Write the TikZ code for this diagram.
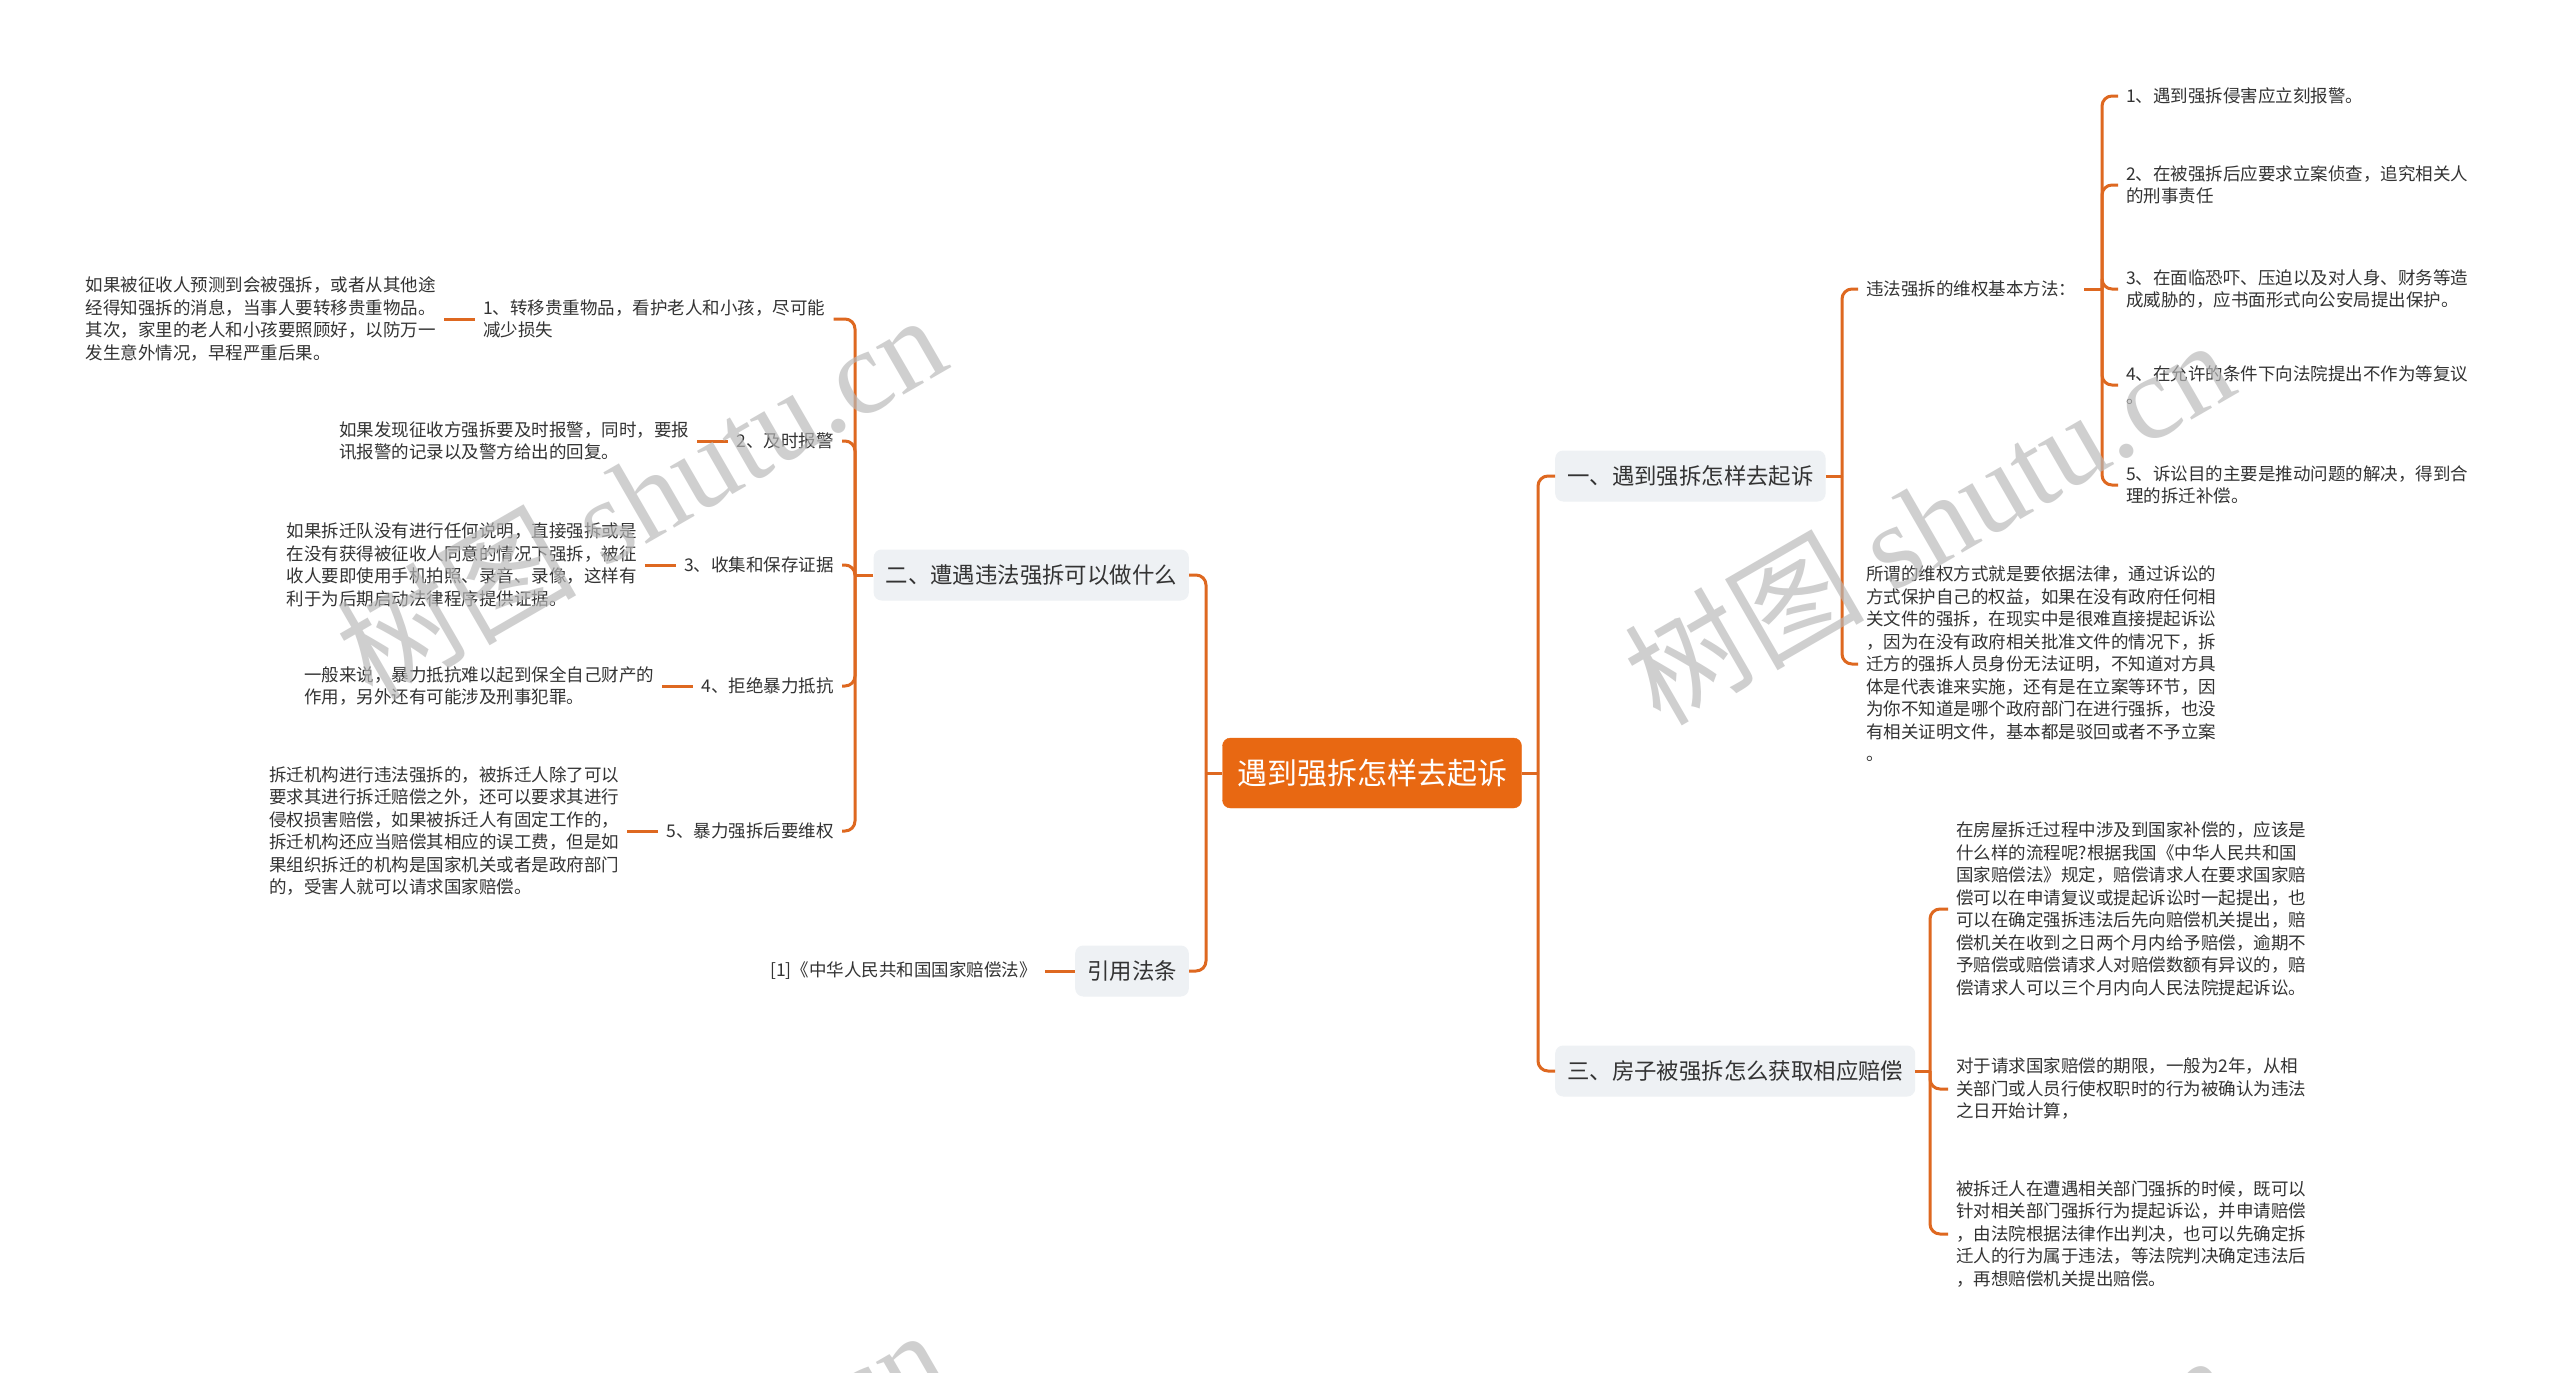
\documentclass[tikz,border=0pt]{standalone}
\usepackage{fontspec}
\setmainfont{Noto Sans CJK SC}
\newfontfamily\wmserif{Liberation Serif}
\usetikzlibrary{calc}
\definecolor{lineor}{RGB}{222,104,32}
\definecolor{rootor}{RGB}{232,104,18}
\definecolor{boxgray}{RGB}{238,241,244}
\definecolor{txt}{RGB}{51,51,51}
\definecolor{wm}{RGB}{185,185,185}
\tikzset{
  conn/.style={draw=lineor, line width=3pt, rounded corners=10pt},
  rootbox/.style={fill=rootor, draw=rootor, rounded corners=8pt, text=white, font=\fontsize{30}{36}\selectfont, minimum width=299pt, minimum height=70pt, inner sep=0pt},
  topbox/.style={fill=boxgray, rounded corners=8pt, text=txt, font=\fontsize{22.4}{28}\selectfont, inner xsep=12pt, minimum height=51pt},
  leaf/.style={text=txt, font=\fontsize{17.5}{22.5}\selectfont, align=left, inner xsep=8pt, inner ysep=2pt},
  wmark/.style={text=wm, opacity=0.68, rotate=30, font=\fontsize{120}{120}\selectfont},
}
\begin{document}
\begin{tikzpicture}[x=1pt,y=-1pt]
\fill[white] (0,0) rectangle (2560,1373);
\useasboundingbox (0,0) rectangle (2560,1373);

% root and first level
\node[rootbox] (root) at (1372,773) {遇到强拆怎样去起诉};
\node[topbox, anchor=east] (n2) at (1189,575) {二、遭遇违法强拆可以做什么};
\node[topbox, anchor=east] (ny) at (1189,971) {引用法条};
\node[topbox, anchor=west] (n1) at (1555,476) {一、遇到强拆怎样去起诉};
\node[topbox, anchor=west] (n3) at (1555,1071) {三、房子被强拆怎么获取相应赔偿};

\coordinate (tL) at (1206,773);
\coordinate (tR) at (1538,773);
\draw[conn] (root.west) -- (tL);
\draw[conn] (tL) |- (n2.east);
\draw[conn] (tL) |- (ny.east);
\draw[conn] (root.east) -- (tR);
\draw[conn] (tR) |- (n1.west);
\draw[conn] (tR) |- (n3.west);

% left branch: 二
\coordinate (t2) at (855,575);
\draw[conn] (n2.west) -- (t2);
\node[leaf, anchor=west] (a1) at (475,319) {1、转移贵重物品，看护老人和小孩，尽可能\\减少损失};
\node[leaf, anchor=east] (a2) at (842,441) {2、及时报警};
\node[leaf, anchor=east] (a3) at (842,565) {3、收集和保存证据};
\node[leaf, anchor=east] (a4) at (842,686) {4、拒绝暴力抵抗};
\node[leaf, anchor=east] (a5) at (842,831) {5、暴力强拆后要维权};
\draw[conn] (t2) |- (a1.east);
\draw[conn] (t2) |- (a2.east);
\draw[conn] (t2) |- (a3.east);
\draw[conn] (t2) |- (a4.east);
\draw[conn] (t2) |- (a5.east);

\node[leaf, anchor=east] (d1) at ($(a1.west)+(-31,0)$) {如果被征收人预测到会被强拆，或者从其他途\\经得知强拆的消息，当事人要转移贵重物品。\\其次，家里的老人和小孩要照顾好，以防万一\\发生意外情况，早程严重后果。};
\node[leaf, anchor=east] (d2) at ($(a2.west)+(-31,0)$) {如果发现征收方强拆要及时报警，同时，要报\\讯报警的记录以及警方给出的回复。};
\node[leaf, anchor=east] (d3) at ($(a3.west)+(-31,0)$) {如果拆迁队没有进行任何说明，直接强拆或是\\在没有获得被征收人同意的情况下强拆，被征\\收人要即使用手机拍照、录音、录像，这样有\\利于为后期启动法律程序提供证据。};
\node[leaf, anchor=east] (d4) at ($(a4.west)+(-31,0)$) {一般来说，暴力抵抗难以起到保全自己财产的\\作用，另外还有可能涉及刑事犯罪。};
\node[leaf, anchor=east] (d5) at ($(a5.west)+(-31,0)$) {拆迁机构进行违法强拆的，被拆迁人除了可以\\要求其进行拆迁赔偿之外，还可以要求其进行\\侵权损害赔偿，如果被拆迁人有固定工作的，\\拆迁机构还应当赔偿其相应的误工费，但是如\\果组织拆迁的机构是国家机关或者是政府部门\\的，受害人就可以请求国家赔偿。};
\draw[conn] (d1.east) -- (a1.west);
\draw[conn] (d2.east) -- (a2.west);
\draw[conn] (d3.east) -- (a3.west);
\draw[conn] (d4.east) -- (a4.west);
\draw[conn] (d5.east) -- (a5.west);

% left branch: 引用法条
\node[leaf, anchor=east] (r1) at ($(ny.west)+(-30,0)$) {[1]《中华人民共和国国家赔偿法》};
\draw[conn] (r1.east) -- (ny.west);

% right branch: 一
\coordinate (t1) at (1842,476);
\draw[conn] (n1.east) -- (t1);
\node[leaf, anchor=west] (b0) at (1858,289) {违法强拆的维权基本方法：};
\node[leaf, anchor=west] (b6) at (1858,664) {所谓的维权方式就是要依据法律，通过诉讼的\\方式保护自己的权益，如果在没有政府任何相\\关文件的强拆，在现实中是很难直接提起诉讼\\，因为在没有政府相关批准文件的情况下，拆\\迁方的强拆人员身份无法证明，不知道对方具\\体是代表谁来实施，还有是在立案等环节，因\\为你不知道是哪个政府部门在进行强拆，也没\\有相关证明文件，基本都是驳回或者不予立案\\。};
\draw[conn] (t1) |- (b0.west);
\draw[conn] (t1) |- (b6.west);

\coordinate (tb) at (2102,289);
\draw[conn] (b0.east) -- (tb);
\node[leaf, anchor=west] (c1) at (2118,96) {1、遇到强拆侵害应立刻报警。};
\node[leaf, anchor=west] (c2) at (2118,185) {2、在被强拆后应要求立案侦查，追究相关人\\的刑事责任};
\node[leaf, anchor=west] (c3) at (2118,289) {3、在面临恐吓、压迫以及对人身、财务等造\\成威胁的，应书面形式向公安局提出保护。};
\node[leaf, anchor=west] (c4) at (2118,385) {4、在允许的条件下向法院提出不作为等复议\\。};
\node[leaf, anchor=west] (c5) at (2118,485) {5、诉讼目的主要是推动问题的解决，得到合\\理的拆迁补偿。};
\draw[conn] (tb) |- (c1.west);
\draw[conn] (tb) |- (c2.west);
\draw[conn] (tb) |- (c3.west);
\draw[conn] (tb) |- (c4.west);
\draw[conn] (tb) |- (c5.west);

% right branch: 三
\coordinate (t3) at (1930,1071);
\draw[conn] (n3.east) -- (t3);
\node[leaf, anchor=west] (e1) at (1948,909) {在房屋拆迁过程中涉及到国家补偿的，应该是\\什么样的流程呢?根据我国《中华人民共和国\\国家赔偿法》规定，赔偿请求人在要求国家赔\\偿可以在申请复议或提起诉讼时一起提出，也\\可以在确定强拆违法后先向赔偿机关提出，赔\\偿机关在收到之日两个月内给予赔偿，逾期不\\予赔偿或赔偿请求人对赔偿数额有异议的，赔\\偿请求人可以三个月内向人民法院提起诉讼。};
\node[leaf, anchor=west] (e2) at (1948,1089) {对于请求国家赔偿的期限，一般为2年，从相\\关部门或人员行使权职时的行为被确认为违法\\之日开始计算，};
\node[leaf, anchor=west] (e3) at (1948,1234) {被拆迁人在遭遇相关部门强拆的时候，既可以\\针对相关部门强拆行为提起诉讼，并申请赔偿\\，由法院根据法律作出判决，也可以先确定拆\\迁人的行为属于违法，等法院判决确定违法后\\，再想赔偿机关提出赔偿。};
\draw[conn] (t3) |- (e1.west);
\draw[conn] (t3) |- (e2.west);
\draw[conn] (t3) |- (e3.west);

% watermarks
\begin{scope}
\clip (0,0) rectangle (2560,1373);
\node[wmark] (w1) at (640,495) {树图 {\wmserif shutu.cn}};
\node[wmark] (w2) at (1928,520) {树图 {\wmserif shutu.cn}};
\node[wmark] (w3) at (640,1510) {树图 {\wmserif shutu.cn}};
\node[wmark] (w4) at (1928,1535) {树图 {\wmserif shutu.cn}};
\end{scope}
\end{tikzpicture}
\end{document}
